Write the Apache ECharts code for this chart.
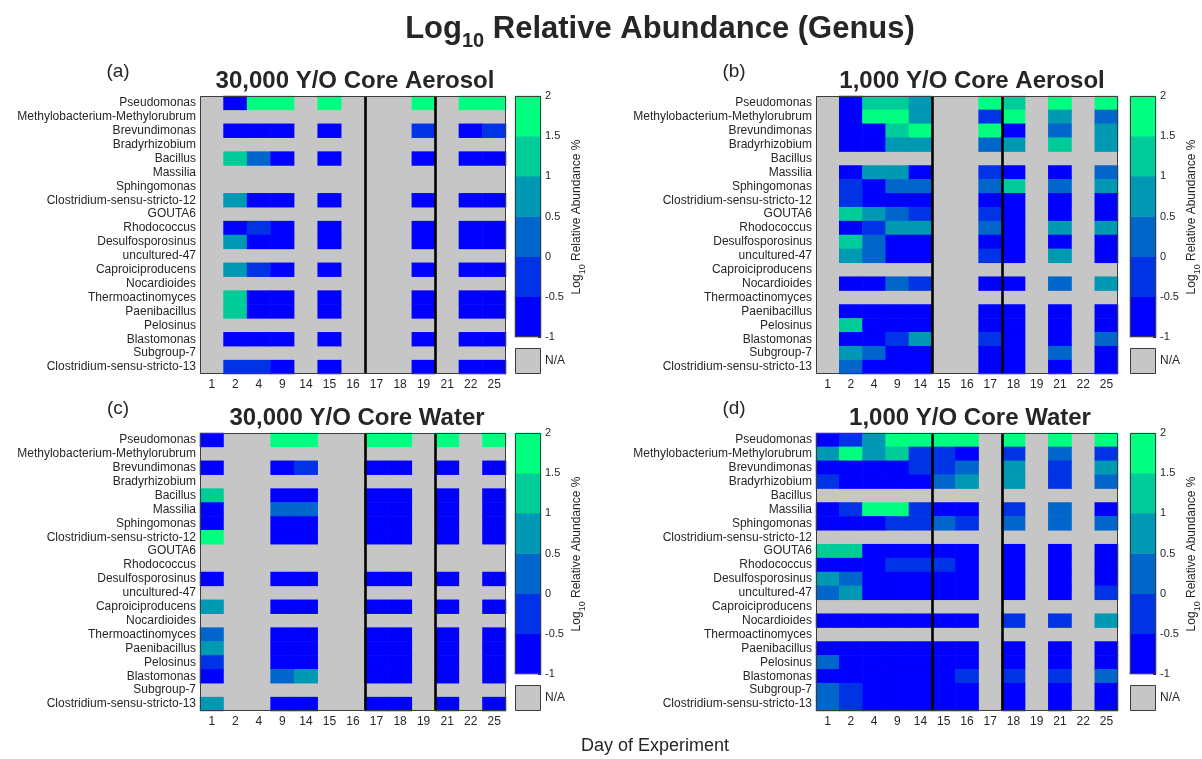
<!DOCTYPE html>
<html>
<head>
<meta charset="utf-8">
<title>Log10 Relative Abundance (Genus)</title>
<script src="https://cdn.jsdelivr.net/npm/echarts@6/dist/echarts.min.js"></script>
<style>
  html, body { margin: 0; padding: 0; background: #ffffff; }
  #chart { width: 1202px; height: 759px; }
</style>
</head>
<body>
<div id="chart"></div>
<script>
const FONT = 'Arial, "Liberation Sans", Helvetica, sans-serif';

// Sampling days (columns) and genera (rows)
const days = ['1', '2', '4', '9', '14', '15', '16', '17', '18', '19', '21', '22', '25'];
const genera = [
  'Pseudomonas', 'Methylobacterium-Methylorubrum', 'Brevundimonas', 'Bradyrhizobium',
  'Bacillus', 'Massilia', 'Sphingomonas', 'Clostridium-sensu-stricto-12', 'GOUTA6',
  'Rhodococcus', 'Desulfosporosinus', 'uncultured-47', 'Caproiciproducens', 'Nocardioides',
  'Thermoactinomyces', 'Paenibacillus', 'Pelosinus', 'Blastomonas', 'Subgroup-7',
  'Clostridium-sensu-stricto-13'
];

// log10 relative abundance (%) per genus (row) and day (column); null = N/A
const _ = null;
const aerosol30k = [
  [_, -0.8, 1.8, 1.8, _, 1.8, _, _, _, 1.8, _, 1.8, 1.8],
  [_, _, _, _, _, _, _, _, _, _, _, _, _],
  [_, -0.8, -0.8, -0.8, _, -0.8, _, _, _, -0.3, _, -0.8, -0.3],
  [_, _, _, _, _, _, _, _, _, _, _, _, _],
  [_, 1.2, 0.2, -0.8, _, -0.8, _, _, _, -0.8, _, -0.8, -0.8],
  [_, _, _, _, _, _, _, _, _, _, _, _, _],
  [_, _, _, _, _, _, _, _, _, _, _, _, _],
  [_, 0.7, -0.8, -0.8, _, -0.8, _, _, _, -0.8, _, -0.8, -0.8],
  [_, _, _, _, _, _, _, _, _, _, _, _, _],
  [_, -0.8, -0.3, -0.8, _, -0.8, _, _, _, -0.8, _, -0.8, -0.8],
  [_, 0.7, -0.8, -0.8, _, -0.8, _, _, _, -0.8, _, -0.8, -0.8],
  [_, _, _, _, _, _, _, _, _, _, _, _, _],
  [_, 0.7, -0.3, -0.8, _, -0.8, _, _, _, -0.8, _, -0.8, -0.8],
  [_, _, _, _, _, _, _, _, _, _, _, _, _],
  [_, 1.2, -0.8, -0.8, _, -0.8, _, _, _, -0.8, _, -0.8, -0.8],
  [_, 1.2, -0.8, -0.8, _, -0.8, _, _, _, -0.8, _, -0.8, -0.8],
  [_, _, _, _, _, _, _, _, _, _, _, _, _],
  [_, -0.8, -0.8, -0.8, _, -0.8, _, _, _, -0.8, _, -0.8, -0.8],
  [_, _, _, _, _, _, _, _, _, _, _, _, _],
  [_, -0.3, -0.3, -0.8, _, -0.8, _, _, _, -0.8, _, -0.8, -0.8]
];
const aerosol1k = [
  [_, -0.8, 1.2, 1.2, 0.7, _, _, 1.8, 1.2, _, 1.8, _, 1.8],
  [_, -0.8, 1.8, 1.8, 0.7, _, _, -0.3, 1.8, _, 0.7, _, 0.2],
  [_, -0.8, -0.8, 1.2, 1.8, _, _, 1.8, -0.8, _, 0.2, _, 0.7],
  [_, -0.8, -0.8, 0.7, 0.7, _, _, 0.2, 0.7, _, 1.2, _, 0.7],
  [_, _, _, _, _, _, _, _, _, _, _, _, _],
  [_, -0.8, 0.7, 0.7, -0.8, _, _, -0.3, -0.8, _, -0.8, _, 0.2],
  [_, -0.3, -0.8, 0.2, 0.2, _, _, 0.2, 1.2, _, 0.2, _, 0.7],
  [_, -0.3, -0.8, -0.8, -0.8, _, _, -0.8, -0.8, _, -0.8, _, -0.8],
  [_, 1.2, 0.7, 0.2, -0.3, _, _, -0.3, -0.8, _, -0.8, _, -0.8],
  [_, -0.8, -0.3, 0.7, 0.7, _, _, 0.2, -0.8, _, 0.7, _, 0.7],
  [_, 1.2, 0.2, -0.8, -0.8, _, _, -0.8, -0.8, _, -0.8, _, -0.8],
  [_, 0.7, 0.2, -0.8, -0.8, _, _, -0.3, -0.8, _, 0.7, _, -0.8],
  [_, _, _, _, _, _, _, _, _, _, _, _, _],
  [_, -0.8, -0.8, 0.2, -0.3, _, _, -0.8, -0.8, _, 0.2, _, 0.7],
  [_, _, _, _, _, _, _, _, _, _, _, _, _],
  [_, -0.8, -0.8, -0.8, -0.8, _, _, -0.8, -0.8, _, -0.8, _, -0.8],
  [_, 1.2, -0.8, -0.8, -0.8, _, _, -0.8, -0.8, _, -0.8, _, -0.8],
  [_, -0.8, -0.8, -0.3, 0.7, _, _, -0.3, -0.8, _, -0.8, _, 0.2],
  [_, 0.7, 0.2, -0.8, -0.8, _, _, -0.8, -0.8, _, 0.2, _, -0.8],
  [_, 0.2, -0.8, -0.8, -0.8, _, _, -0.8, -0.8, _, -0.8, _, -0.8]
];
const water30k = [
  [-0.8, _, _, 1.8, 1.8, _, _, 1.8, 1.8, _, 1.8, _, 1.8],
  [_, _, _, _, _, _, _, _, _, _, _, _, _],
  [-0.8, _, _, -0.8, -0.3, _, _, -0.8, -0.8, _, -0.8, _, -0.8],
  [_, _, _, _, _, _, _, _, _, _, _, _, _],
  [1.2, _, _, -0.8, -0.8, _, _, -0.8, -0.8, _, -0.8, _, -0.8],
  [-0.8, _, _, 0.2, 0.2, _, _, -0.8, -0.8, _, -0.8, _, -0.8],
  [-0.8, _, _, -0.8, -0.8, _, _, -0.8, -0.8, _, -0.8, _, -0.8],
  [1.8, _, _, -0.8, -0.8, _, _, -0.8, -0.8, _, -0.8, _, -0.8],
  [_, _, _, _, _, _, _, _, _, _, _, _, _],
  [_, _, _, _, _, _, _, _, _, _, _, _, _],
  [-0.8, _, _, -0.8, -0.8, _, _, -0.8, -0.8, _, -0.8, _, -0.8],
  [_, _, _, _, _, _, _, _, _, _, _, _, _],
  [0.7, _, _, -0.8, -0.8, _, _, -0.8, -0.8, _, -0.8, _, -0.8],
  [_, _, _, _, _, _, _, _, _, _, _, _, _],
  [0.2, _, _, -0.8, -0.8, _, _, -0.8, -0.8, _, -0.8, _, -0.8],
  [0.7, _, _, -0.8, -0.8, _, _, -0.8, -0.8, _, -0.8, _, -0.8],
  [-0.3, _, _, -0.8, -0.8, _, _, -0.8, -0.8, _, -0.8, _, -0.8],
  [-0.8, _, _, 0.2, 0.7, _, _, -0.8, -0.8, _, -0.8, _, -0.8],
  [_, _, _, _, _, _, _, _, _, _, _, _, _],
  [0.7, _, _, -0.8, -0.8, _, _, -0.8, -0.8, _, -0.8, _, -0.8]
];
const water1k = [
  [-0.8, -0.3, 0.7, 1.8, 1.8, 1.8, 1.8, _, 1.8, _, 1.8, _, 1.8],
  [0.7, 1.8, 0.7, 1.2, -0.3, -0.3, -0.8, _, -0.3, _, 0.2, _, -0.3],
  [-0.8, -0.8, -0.8, -0.8, -0.3, -0.3, 0.2, _, 0.7, _, -0.3, _, 0.7],
  [-0.3, -0.8, -0.8, -0.8, -0.8, 0.2, 0.7, _, 0.7, _, -0.3, _, 0.2],
  [_, _, _, _, _, _, _, _, _, _, _, _, _],
  [-0.8, -0.3, 1.8, 1.8, -0.3, -0.8, -0.8, _, -0.3, _, 0.2, _, -0.8],
  [-0.8, -0.8, -0.8, -0.3, -0.3, 0.2, -0.3, _, 0.2, _, 0.2, _, 0.2],
  [_, _, _, _, _, _, _, _, _, _, _, _, _],
  [1.2, 1.2, -0.8, -0.8, -0.8, -0.8, -0.8, _, -0.8, _, -0.8, _, -0.8],
  [-0.8, -0.8, -0.8, -0.3, -0.3, -0.3, -0.8, _, -0.8, _, -0.8, _, -0.8],
  [0.7, 0.2, -0.8, -0.8, -0.8, -0.8, -0.8, _, -0.8, _, -0.8, _, -0.8],
  [0.2, 0.7, -0.8, -0.8, -0.8, -0.8, -0.8, _, -0.8, _, -0.8, _, -0.3],
  [_, _, _, _, _, _, _, _, _, _, _, _, _],
  [-0.8, -0.8, -0.8, -0.8, -0.8, -0.8, -0.8, _, -0.3, _, -0.3, _, 0.7],
  [_, _, _, _, _, _, _, _, _, _, _, _, _],
  [-0.8, -0.8, -0.8, -0.8, -0.8, -0.8, -0.8, _, -0.8, _, -0.8, _, -0.8],
  [0.2, -0.8, -0.8, -0.8, -0.8, -0.8, -0.8, _, -0.8, _, -0.8, _, -0.8],
  [-0.8, -0.8, -0.8, -0.8, -0.8, -0.8, -0.3, _, -0.3, _, -0.3, _, 0.2],
  [0.2, -0.3, -0.8, -0.8, -0.8, -0.8, -0.8, _, -0.8, _, -0.8, _, -0.8],
  [0.2, -0.3, -0.8, -0.8, -0.8, -0.8, -0.8, _, -0.8, _, -0.8, _, -0.8]
];

// Days after which a phase boundary is drawn
const breaksAerosol30k = ['16', '19'];
const breaksAerosol1k = ['14', '17'];
const breaksWater30k = ['16', '19'];
const breaksWater1k = ['14', '17'];

// Colour scale: bin centres and tick labels of the colorbar
const scaleBins = [-0.75, -0.25, 0.25, 0.75, 1.25, 1.75];
const scaleTicks = [-1, -0.5, 0, 0.5, 1, 1.5, 2];
const binColors = ['#0000ff', '#0033e6', '#0066cc', '#0099b3', '#00cc99', '#00ff80'];

const panels = [
  { letter: '(a)', title: '30,000 Y/O Core Aerosol', values: aerosol30k, breaks: breaksAerosol30k, x: 200, y: 96, w: 306, cbx: 515, tx: 355 },
  { letter: '(b)', title: '1,000 Y/O Core Aerosol', values: aerosol1k, breaks: breaksAerosol1k, x: 816, y: 96, w: 302, cbx: 1130, tx: 972 },
  { letter: '(c)', title: '30,000 Y/O Core Water', values: water30k, breaks: breaksWater30k, x: 200, y: 433, w: 306, cbx: 515, tx: 357 },
  { letter: '(d)', title: '1,000 Y/O Core Water', values: water1k, breaks: breaksWater1k, x: 816, y: 433, w: 302, cbx: 1130, tx: 970 }
];
const H = 278, CBW = 26, CBH = 241;
const NA_GRAY = '#c6c6c6';
const TEXT = '#262626';

const grid = [], xAxis = [], yAxis = [], series = [], graphic = [], mapped = [];

panels.forEach((p) => {
  // heatmap grid
  const g = grid.length;
  grid.push({ left: p.x, top: p.y, width: p.w, height: H, show: true, backgroundColor: NA_GRAY, borderWidth: 0 });
  const xc = xAxis.length;
  xAxis.push({
    gridIndex: g, type: 'category', data: days,
    axisLine: { show: false }, axisTick: { show: false }, splitLine: { show: false },
    axisLabel: { interval: 0, fontFamily: FONT, fontSize: 12, color: TEXT, margin: 5 }
  });
  const xv = xAxis.length;
  xAxis.push({ gridIndex: g, type: 'value', min: 0, max: days.length, show: false });
  const yc = yAxis.length;
  yAxis.push({
    gridIndex: g, type: 'category', data: genera, inverse: true,
    axisLine: { show: false }, axisTick: { show: false }, splitLine: { show: false },
    axisLabel: { interval: 0, fontFamily: FONT, fontSize: 12, color: TEXT, margin: 4 }
  });
  const cells = [];
  p.values.forEach((row, r) => row.forEach((v, c) => { if (v !== null) cells.push([c, r, v]); }));
  mapped.push(series.length);
  series.push({
    type: 'heatmap', xAxisIndex: xc, yAxisIndex: yc, data: cells, silent: true,
    itemStyle: { borderWidth: 0 }, emphasis: { disabled: true }
  });
  // phase boundaries
  series.push({
    type: 'line', xAxisIndex: xv, yAxisIndex: yc, data: [], silent: true,
    markLine: {
      silent: true, symbol: 'none', animation: false, label: { show: false },
      lineStyle: { color: '#000000', width: 2.6, type: 'solid' },
      data: p.breaks.map(b => ({ xAxis: days.indexOf(b) + 1 }))
    }
  });

  // colorbar grid
  const cg = grid.length;
  grid.push({ left: p.cbx, top: p.y, width: CBW, height: CBH, show: false });
  const cx = xAxis.length;
  xAxis.push({ gridIndex: cg, type: 'category', data: [''], show: false });
  const cyc = yAxis.length;
  yAxis.push({ gridIndex: cg, type: 'category', data: scaleBins.map(String), show: false });
  yAxis.push({
    gridIndex: cg, type: 'value', position: 'right',
    min: scaleTicks[0], max: scaleTicks[scaleTicks.length - 1], interval: 0.5,
    axisLine: { show: false }, splitLine: { show: false },
    axisTick: { show: true, inside: true, length: 3, lineStyle: { color: '#333333' } },
    axisLabel: { fontFamily: FONT, fontSize: 11, color: TEXT, margin: 4 }
  });
  mapped.push(series.length);
  series.push({
    type: 'heatmap', xAxisIndex: cx, yAxisIndex: cyc, silent: true,
    data: scaleBins.map((b, k) => [0, k, b]),
    itemStyle: { borderWidth: 0 }, emphasis: { disabled: true }
  });

  // frames
  graphic.push({ type: 'rect', z: 100, silent: true,
    shape: { x: p.x + 0.5, y: p.y + 0.5, width: p.w - 1, height: H - 1 },
    style: { fill: 'none', stroke: '#3c3c3c', lineWidth: 1 } });
  graphic.push({ type: 'rect', z: 100, silent: true,
    shape: { x: p.cbx + 0.5, y: p.y + 0.5, width: CBW - 1, height: CBH - 1 },
    style: { fill: 'none', stroke: '#3c3c3c', lineWidth: 1 } });
  // N/A swatch
  graphic.push({ type: 'rect', z: 100, silent: true,
    shape: { x: p.cbx + 0.5, y: p.y + 252.5, width: CBW - 1, height: 25 },
    style: { fill: NA_GRAY, stroke: '#3c3c3c', lineWidth: 1 } });
  graphic.push({ type: 'text', z: 100, silent: true, x: p.cbx + 30, y: p.y + 265,
    style: { text: 'N/A', font: '12px ' + FONT, fill: TEXT, align: 'left', verticalAlign: 'middle' } });
  // colorbar title
  graphic.push({ type: 'text', z: 100, silent: true, x: p.cbx + 64, y: p.y + 121, rotation: Math.PI / 2,
    style: {
      text: '{m|Log}{s|10}{m| Relative Abundance %}', align: 'center', verticalAlign: 'middle',
      rich: {
        m: { fontSize: 12, fontFamily: FONT, fill: TEXT, verticalAlign: 'top' },
        s: { fontSize: 9, fontFamily: FONT, fill: TEXT, verticalAlign: 'top', padding: [7, 0, 0, 0] }
      }
    } });
  // panel letter and title
  graphic.push({ type: 'text', z: 100, silent: true, x: p.x - 82, y: p.y - 24,
    style: { text: p.letter, font: '19px ' + FONT, fill: TEXT, align: 'center', verticalAlign: 'middle' } });
  graphic.push({ type: 'text', z: 100, silent: true, x: p.tx, y: p.y - 15,
    style: { text: p.title, font: 'bold 24px ' + FONT, fill: TEXT, align: 'center', verticalAlign: 'middle' } });
});

// figure title and shared x label
graphic.push({ type: 'text', z: 100, silent: true, x: 660, y: 14,
  style: {
    text: '{m|Log}{s|10}{m| Relative Abundance (Genus)}', align: 'center', verticalAlign: 'top',
    rich: {
      m: { fontSize: 31, fontWeight: 'bold', fontFamily: FONT, fill: TEXT, verticalAlign: 'top' },
      s: { fontSize: 20, fontWeight: 'bold', fontFamily: FONT, fill: TEXT, verticalAlign: 'top', padding: [17, 0, 0, 0] }
    }
  } });
graphic.push({ type: 'text', z: 100, silent: true, x: 655, y: 746,
  style: { text: 'Day of Experiment', font: '18px ' + FONT, fill: TEXT, align: 'center', verticalAlign: 'middle' } });

const chart = echarts.init(document.getElementById('chart'), null, { renderer: 'canvas' });
chart.setOption({
  animation: false,
  backgroundColor: '#ffffff',
  grid, xAxis, yAxis, series, graphic,
  visualMap: {
    type: 'piecewise', show: false, dimension: 2, seriesIndex: mapped,
    pieces: binColors.map((color, k) => ({ gte: scaleTicks[k], lt: scaleTicks[k + 1], color }))
  }
});
</script>
</body>
</html>
